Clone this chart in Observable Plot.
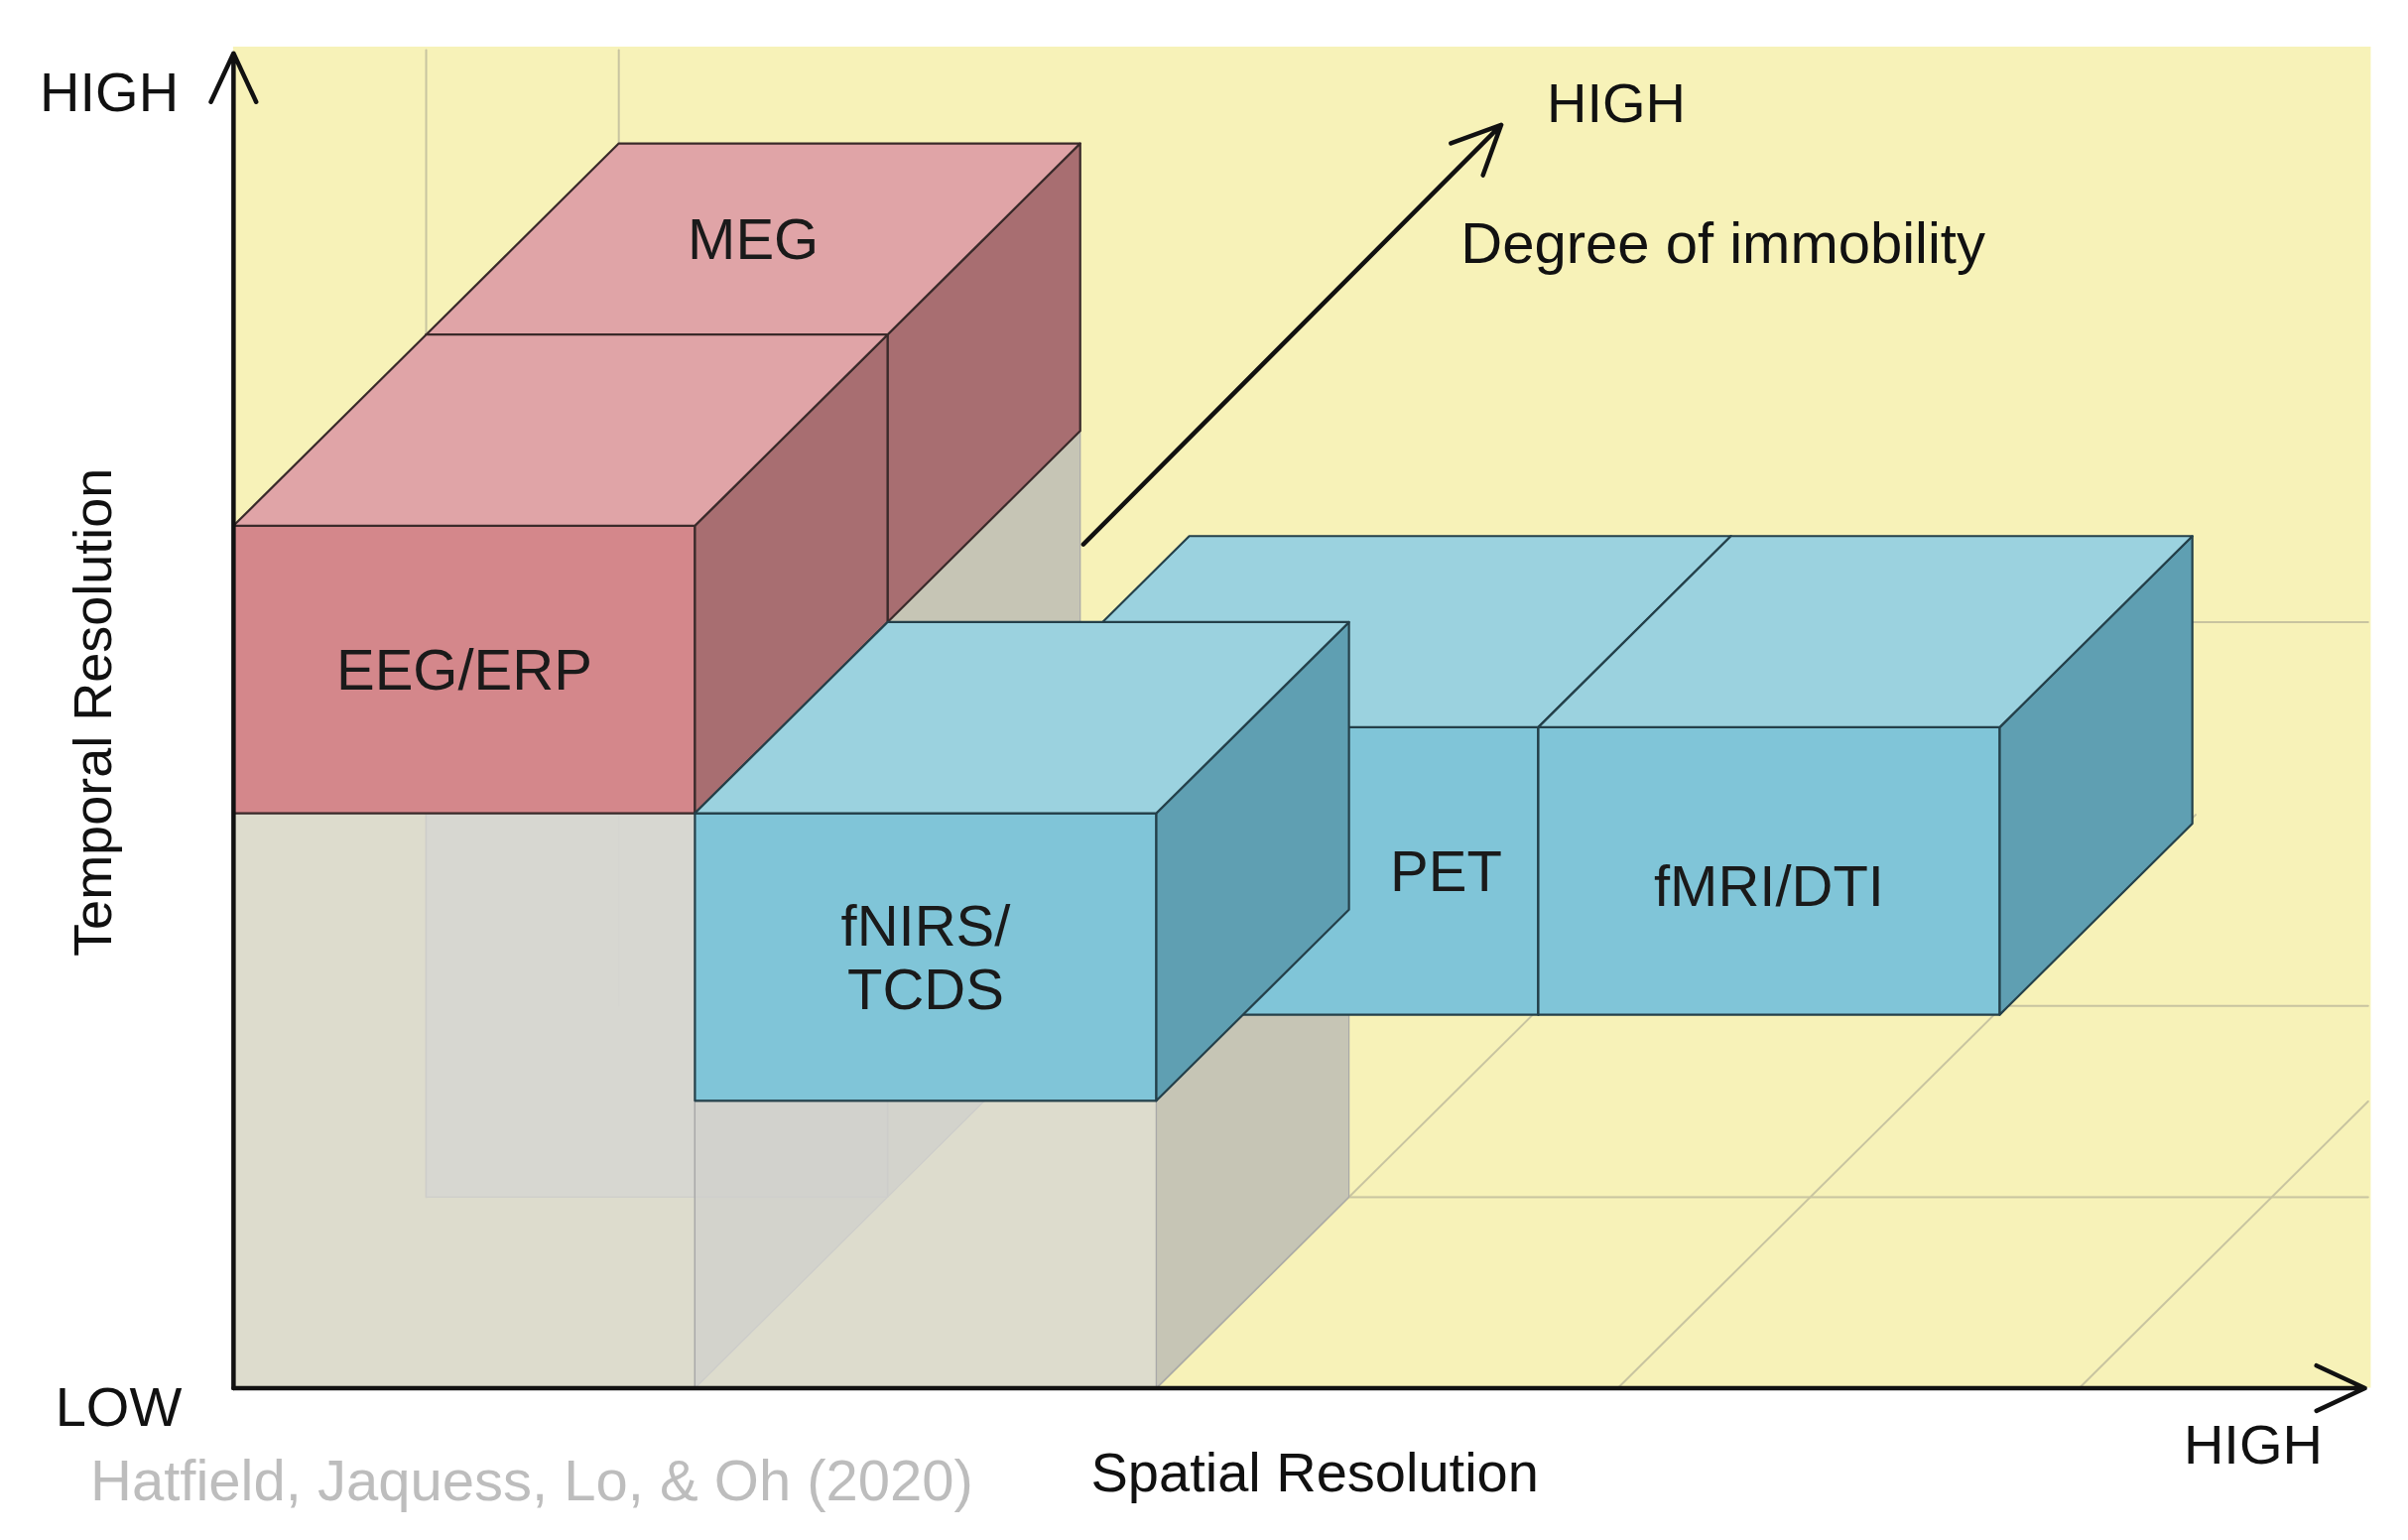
<!DOCTYPE html>
<html><head><meta charset="utf-8">
<script src="https://cdn.jsdelivr.net/npm/d3@7"></script>
<script src="https://cdn.jsdelivr.net/npm/@observablehq/plot@0.6"></script>
<style>body{margin:0;background:#fff}</style>
</head><body><div id="chart"></div>
<script>
// boxes in grid units: x = spatial, y = temporal, z = immobility depth
const names = ["colB", "colA", "colC", "MEG", "PET", "fMRI/DTI", "EEG/ERP", "fNIRS/\nTCDS"]
const kinds = ["grey", "grey", "grey", "pink", "blue", "blue", "pink", "blue"]
const x0s = [0, 0, 1, 0, 1.466, 2.64, 0, 1]
const x1s = [1, 1, 2, 1, 2.64, 3.64, 1, 2]
const y0s = [0, 0, 0, 2, 1, 1, 2, 1]
const y1s = [2, 2, 1, 3, 2, 2, 3, 2]
const z0s = [1, 0, 0, 1, 0.45, 0.45, 0, 0]
const z1s = [2, 1, 1, 2, 1.45, 1.45, 1, 1]
const labelPos = [null, null, null, [0.5, 3, 1.5], [2.44, 1.5, 0.45], [3.14, 1.45, 0.45], [0.5, 2.5, 0], [1.5, 1.5, 0]]

const palette = {
  pink: {front: "#d4878b", top: "#e0a4a7", right: "#a86e71", stroke: "#3a2a2a"},
  blue: {front: "#80c5d8", top: "#9bd2df", right: "#5f9fb2", stroke: "#24404a"},
  grey: {front: "rgba(214,214,210,0.8)", top: "rgba(214,214,210,0.6)", right: "rgba(185,185,180,0.8)", stroke: "#a8a8a8"}
}

// oblique projection into the 1550x991 reference frame
const px = (x, z) => 150 + x * 297 + z * 124
const py = (y, z) => 893 - y * 185 - z * 123

const faces = []
names.forEach((n, i) => {
  const [a, b, c, d, e, f] = [x0s[i], x1s[i], y0s[i], y1s[i], z0s[i], z1s[i]]
  const pal = palette[kinds[i]]
  const polys = {
    front: [[a, c, e], [b, c, e], [b, d, e], [a, d, e]],
    top: [[a, d, e], [b, d, e], [b, d, f], [a, d, f]],
    right: [[b, c, e], [b, c, f], [b, d, f], [b, d, e]]
  }
  for (const k of ["front", "right", "top"]) {
    const pts = polys[k].concat([polys[k][0]])
    pts.forEach(([x, y, z]) => faces.push({id: i + k, order: i, X: px(x, z), Y: py(y, z), fill: pal[k], stroke: pal.stroke, sw: kinds[i] === "grey" ? 1.2 : 2.2}))
  }
})
const under = faces.filter(d => d.order < 3)
const back = faces.filter(d => d.order === 3)
const front = faces.filter(d => d.order > 3)

const labels = names.map((n, i) => labelPos[i] && {text: n, X: px(labelPos[i][0], labelPos[i][2]), Y: py(labelPos[i][1], labelPos[i][2])}).filter(Boolean)

// faint grid on the yellow floor and left wall, kept inside the panel
const maxX = z => (1524 - 150 - 124 * z) / 297
const maxY = z => (893 - 32 - 123 * z) / 185
const maxZ = x => Math.min(3, (1524 - 150 - 297 * x) / 124)
const gridLines = []
;[2, 3, 4].forEach(x => gridLines.push([[x, 0, 0], [x, 0, maxZ(x)]]))
;[1, 2].forEach(z => gridLines.push([[2, 0, z], [maxX(z), 0, z]]))
;[1, 2].forEach(z => gridLines.push([[0, 0, z], [0, maxY(z), z]]))
gridLines.push([[3.64, 2, 1], [maxX(1), 2, 1]])
const grid = gridLines.flatMap((l, i) => l.map(([x, y, z]) => ({id: i, X: px(x, z), Y: py(y, z)})))

const arrowData = [{x1: 697, y1: 350, x2: 966, y2: 80}]

const arrowOpts = {stroke: "#111", strokeWidth: 4.5, headLength: 18, headAngle: 50}
const chart = Plot.plot({
  width: 2427, height: 1552,
  margin: 0,
  x: {domain: [0, 1550], range: [0, 2427], axis: null},
  y: {domain: [0, 991], range: [0, 1552], axis: null},
  color: {type: "identity"},
  style: {background: "#fff", fontFamily: "Liberation Sans"},
  marks: [
    Plot.rect([{}], {x1: 150, x2: 1526, y1: 30, y2: 893, fill: "#f7f2b8"}),
    Plot.line(grid, {x: "X", y: "Y", z: "id", stroke: "#c8c4a0", strokeWidth: 2}),
    Plot.line(under, {x: "X", y: "Y", z: "id", fill: "fill", stroke: "stroke", strokeWidth: "sw"}),
    Plot.arrow(arrowData, {x1: "x1", y1: "y1", x2: "x2", y2: "y2", ...arrowOpts}),
    Plot.line(back, {x: "X", y: "Y", z: "id", fill: "fill", stroke: "stroke", strokeWidth: "sw"}),
    Plot.line(front, {x: "X", y: "Y", z: "id", fill: "fill", stroke: "stroke", strokeWidth: "sw"}),
    Plot.text(labels, {x: "X", y: "Y", text: "text", fontSize: 58, fill: "#1a1a1a", lineHeight: 1.1}),
    Plot.arrow([{}], {x1: 150, y1: 893, x2: 150, y2: 34, ...arrowOpts}),
    Plot.arrow([{}], {x1: 150, y1: 893, x2: 1522, y2: 893, ...arrowOpts}),
    Plot.text(["HIGH"], {x: 70, y: 60, fontSize: 56, fill: "#111"}),
    Plot.text(["LOW"], {x: 76, y: 906, fontSize: 56, fill: "#111"}),
    Plot.text(["HIGH"], {x: 1450, y: 930, fontSize: 56, fill: "#111"}),
    Plot.text(["HIGH"], {x: 1040, y: 67, fontSize: 56, fill: "#111"}),
    Plot.text(["Degree of immobility"], {x: 940, y: 157, textAnchor: "start", fontSize: 58, fill: "#111"}),
    Plot.text(["Temporal Resolution"], {x: 60, y: 458, rotate: -90, fontSize: 54, fill: "#111"}),
    Plot.text(["Spatial Resolution"], {x: 846, y: 948, fontSize: 56, fill: "#111"}),
    Plot.text(["Hatfield, Jaquess, Lo, & Oh (2020)"], {x: 342, y: 953, fontSize: 58, fill: "#bdbdbd"})
  ]
})
document.getElementById("chart").append(chart)
</script></body></html>
